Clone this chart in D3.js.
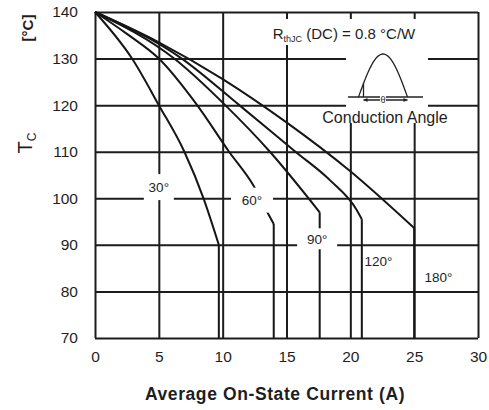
<!DOCTYPE html>
<html lang="en">
<head>
<meta charset="utf-8">
<title>Tc vs Average On-State Current</title>
<script src="https://cdnjs.cloudflare.com/ajax/libs/d3/7.8.5/d3.min.js"></script>
<style>
  body { margin: 0; background: #fff; }
  text { font-family: "Liberation Sans", Arial, sans-serif; fill: #1e1e1e; }
</style>
</head>
<body>
<svg id="chart" width="489" height="410"></svg>
<script>
// axis ticks
var xTicks = [0, 5, 10, 15, 20, 25, 30];
var yTicks = [70, 80, 90, 100, 110, 120, 130, 140];

// conduction angle curves (current in A, case temp in degC)
var angles = ["30°", "60°", "90°", "120°", "180°"];
var current30 = [0, 2.9, 5, 7.0, 8.5, 9.7];
var temp30 = [140, 130, 120, 110, 100, 90];
var current60 = [0, 2.5, 5, 8, 10.5, 12.4, 13.5, 14];
var temp60 = [140, 135.3, 130, 120, 110, 102.8, 97, 94.5];
var current90 = [0, 6.2, 10.2, 13.7, 17.6];
var temp90 = [140, 130, 120, 110, 97];
var current120 = [0, 6.8, 11.3, 15.7, 18.4, 20.5, 20.9];
var temp120 = [140, 130, 120, 110, 103.9, 97.5, 95.5];
var current180 = [0, 5, 10, 15, 20, 25];
var temp180 = [140, 133.5, 125.6, 116.3, 105.8, 93.6];

// label spots for the curves (A, degC) and the white box behind each
var labelX = [5, 12.3, 17.4, 22.2, 26.9];
var labelT = [102.4, 99.6, 91.3, 86.6, 83.0];
var labelBox = [[30, 26], [42, 25], [40, 21], [0, 0], [0, 0]];

var svg = d3.select("#chart");
var mLeft = 95, mTop = 12, w = 383, h = 326;

var x = d3.scaleLinear().domain([0, 30]).range([mLeft, mLeft + w]);
var y = d3.scaleLinear().domain([70, 140]).range([mTop + h, mTop]);

// grid + tick labels
var gx = svg.append("g")
  .attr("transform", "translate(0," + (mTop + h) + ")")
  .call(d3.axisBottom(x).tickValues(xTicks).tickSize(-h).tickSizeOuter(0).tickPadding(13));
var gy = svg.append("g")
  .attr("transform", "translate(" + mLeft + ",0)")
  .call(d3.axisLeft(y).tickValues(yTicks).tickSize(-w).tickSizeOuter(0).tickPadding(17));

[gx, gy].forEach(function(g) {
  g.select(".domain").remove();
  g.selectAll("line").attr("stroke", "#1c1c1c").attr("stroke-width", 2);
  g.selectAll("text").attr("font-size", 15.5).attr("fill", "#2a2a2a")
    .attr("font-family", "Liberation Sans, Arial, sans-serif");
});

// curves
var line = d3.line()
  .x(function(d) { return x(d[0]); })
  .y(function(d) { return y(d[1]); })
  .curve(d3.curveMonotoneX);

var series = [
  [current30, temp30], [current60, temp60], [current90, temp90],
  [current120, temp120], [current180, temp180]
];

series.forEach(function(s) {
  var pts = s[0].map(function(c, i) { return [c, s[1][i]]; });
  svg.append("path").attr("d", line(pts))
    .attr("fill", "none").attr("stroke", "#161616").attr("stroke-width", 2);
  var last = pts[pts.length - 1];
  svg.append("line")
    .attr("x1", x(last[0])).attr("x2", x(last[0]))
    .attr("y1", y(last[1])).attr("y2", y(70))
    .attr("stroke", "#161616").attr("stroke-width", 2);
});

// curve labels
angles.forEach(function(a, i) {
  var bw = labelBox[i][0], bh = labelBox[i][1];
  if (bw > 0) {
    svg.append("rect")
      .attr("x", x(labelX[i]) - bw / 2).attr("y", y(labelT[i]) - bh / 2)
      .attr("width", bw).attr("height", bh).attr("fill", "#fff");
  }
  svg.append("text")
    .attr("x", x(labelX[i])).attr("y", y(labelT[i]))
    .attr("dy", "0.36em").attr("text-anchor", "middle")
    .attr("font-size", 13.5).text(a);
});

// annotation: thermal resistance
svg.append("rect").attr("x", 258).attr("y", 19).attr("width", 172).attr("height", 26).attr("fill", "#fff");
var rt = svg.append("text").attr("x", 344).attr("y", 39)
  .attr("text-anchor", "middle").attr("font-size", 15);
rt.append("tspan").text("R");
rt.append("tspan").attr("font-size", 9).attr("dy", 3).text("thJC");
rt.append("tspan").attr("dy", -3).text(" (DC) = 0.8 °C/W");

// annotation: conduction angle symbol
svg.append("rect").attr("x", 346).attr("y", 45).attr("width", 82).attr("height", 78).attr("fill", "#fff");
var sym = svg.append("g").attr("transform", "translate(383,97)");
var half = 24.5, peak = 43;
var sine = d3.range(0, 41).map(function(i) {
  var t = i / 40;
  return [-half + 2 * half * t, -peak * Math.sin(Math.PI * t)];
});
sym.append("path").attr("d", d3.line()(sine))
  .attr("fill", "none").attr("stroke", "#222").attr("stroke-width", 1.3);
var fire = -19.5;
var fy = -peak * Math.sin(Math.PI * (fire + half) / (2 * half));
sym.append("line").attr("x1", fire).attr("x2", fire).attr("y1", 0).attr("y2", fy)
  .attr("stroke", "#222").attr("stroke-width", 1.3);
sym.append("line").attr("x1", -35).attr("x2", 40).attr("y1", 0).attr("y2", 0)
  .attr("stroke", "#222").attr("stroke-width", 1.3);
sym.append("line").attr("x1", fire).attr("x2", half).attr("y1", 3).attr("y2", 3)
  .attr("stroke", "#222").attr("stroke-width", 1.3);
sym.append("path").attr("d", "M" + fire + ",3l4,-2v4z M" + half + ",3l-4,-2v4z").attr("fill", "#222");
sym.append("rect").attr("x", -3).attr("y", -1).attr("width", 6).attr("height", 7).attr("fill", "#fff");
sym.append("text").attr("x", 0).attr("y", 6).attr("text-anchor", "middle")
  .attr("font-size", 9).text("θ");

svg.append("text").attr("x", 385).attr("y", 123).attr("text-anchor", "middle")
  .attr("font-size", 16).text("Conduction Angle");

// axis titles
svg.append("text").attr("x", 275).attr("y", 400).attr("text-anchor", "middle")
  .attr("font-size", 17.5).attr("font-weight", "bold").attr("letter-spacing", 0.6)
  .text("Average On-State Current (A)");

svg.append("text").attr("transform", "translate(33,28) rotate(-90)")
  .attr("text-anchor", "middle").attr("font-size", 15).attr("font-weight", "bold").text("[°C]");

var tc = svg.append("text").attr("transform", "translate(32,143) rotate(-90)")
  .attr("text-anchor", "middle").attr("font-size", 20);
tc.append("tspan").text("T");
tc.append("tspan").attr("font-size", 12).attr("dy", 4).text("C");
</script>
</body>
</html>
